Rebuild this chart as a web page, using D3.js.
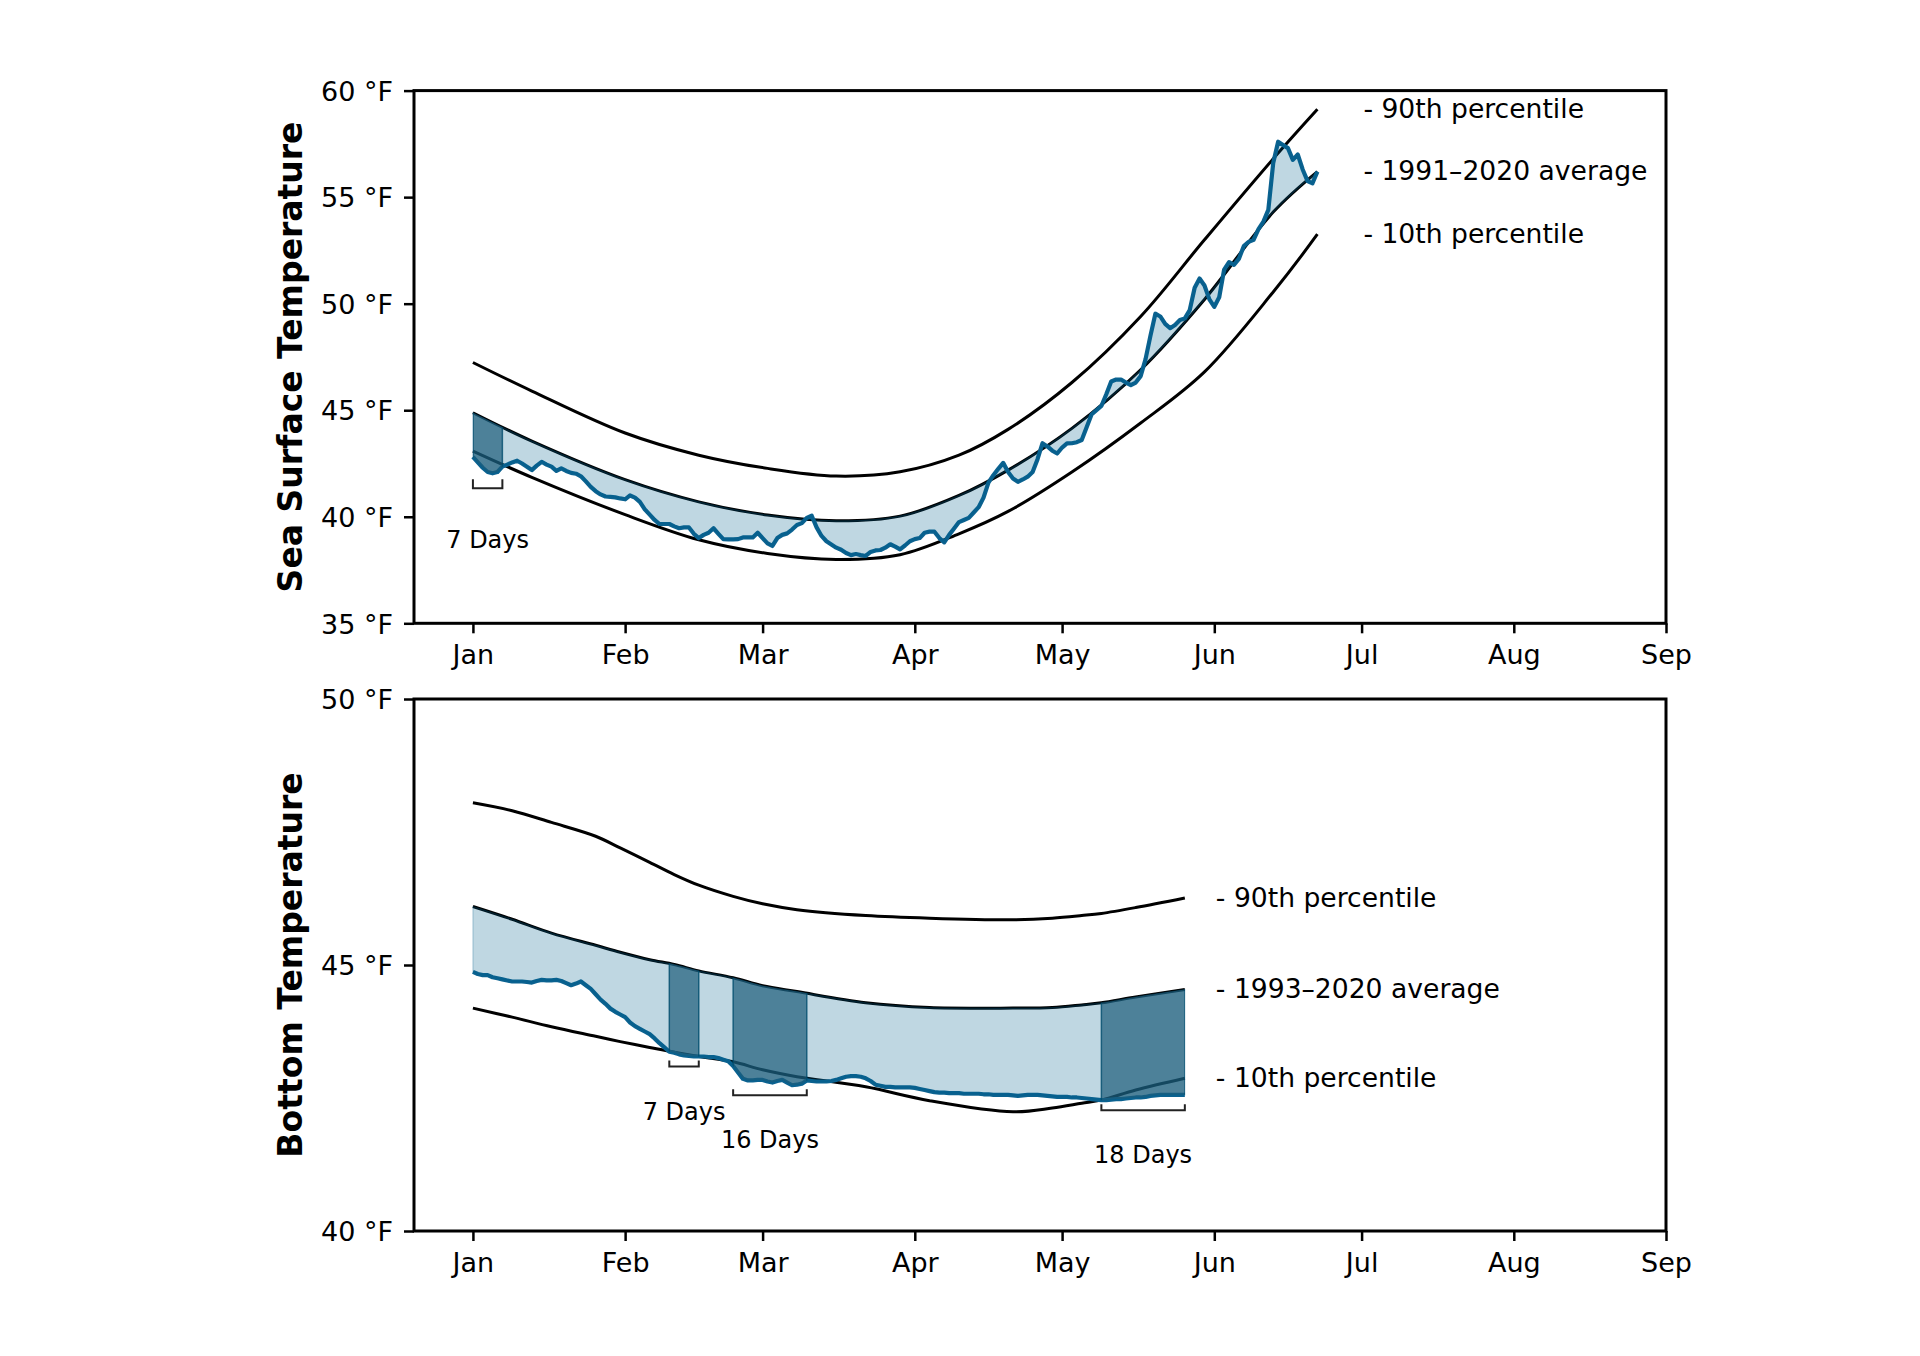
<!DOCTYPE html>
<html>
<head>
<meta charset="utf-8">
<script src="https://cdn.jsdelivr.net/npm/d3@7"></script>
<style>
  body { margin: 0; background: #fff; }
  svg text { font-family: "DejaVu Sans", sans-serif; }
</style>
</head>
<body>
<svg id="chart" width="1920" height="1356"></svg>
<script>
// ---- data ----
const monthTicks = ["2023-01-01", "2023-02-01", "2023-03-01", "2023-04-01", "2023-05-01",
                    "2023-06-01", "2023-07-01", "2023-08-01", "2023-09-01"];
const monthLabels = ["Jan", "Feb", "Mar", "Apr", "May", "Jun", "Jul", "Aug", "Sep"];

// sea surface temperature
const sstTicks = [35, 40, 45, 50, 55, 60];
const sstClimDates = ["2023-01-01", "2023-01-13", "2023-02-01", "2023-02-16", "2023-03-02", "2023-03-16",
                      "2023-03-29", "2023-04-10", "2023-04-20", "2023-05-03", "2023-05-17", "2023-05-30",
                      "2023-06-13", "2023-06-22"];
const sst90 = [47.24, 45.9, 43.93, 42.89, 42.27, 41.91, 42.11, 42.89, 44.1, 46.3, 49.4, 53.0, 56.8, 59.12];
const sstAvg = [44.88, 43.55, 41.74, 40.7, 40.08, 39.81, 40.03, 41.0, 42.19, 44.15, 46.9, 50.2, 54.3, 56.2];
const sst10 = [43.08, 41.85, 40.1, 38.92, 38.28, 38.0, 38.22, 39.2, 40.25, 42.1, 44.4, 46.8, 50.55, 53.26];
const sstObsStart = "2023-01-01";
const sstObs = [
  42.81, 42.55, 42.3, 42.1, 42.04, 42.1, 42.35, 42.45, 42.55, 42.63,
  42.5, 42.35, 42.19, 42.4, 42.58, 42.45, 42.35, 42.15, 42.27, 42.15,
  42.06, 42.02, 41.9, 41.66, 41.4, 41.2, 41.05, 40.95, 40.93, 40.91,
  40.86, 40.82, 41.0, 40.9, 40.7, 40.35, 40.1, 39.85, 39.66, 39.66,
  39.66, 39.55, 39.46, 39.5, 39.5, 39.2, 39.0, 39.15, 39.25, 39.46,
  39.2, 38.95, 38.94, 38.94, 38.95, 39.03, 39.03, 39.03, 39.25, 39.0,
  38.75, 38.63, 39.0, 39.15, 39.22, 39.4, 39.61, 39.7, 39.95, 40.05,
  39.5, 39.1, 38.85, 38.7, 38.55, 38.45, 38.3, 38.2, 38.25, 38.2,
  38.16, 38.35, 38.42, 38.44, 38.55, 38.71, 38.6, 38.47, 38.65, 38.85,
  38.95, 39.0, 39.25, 39.3, 39.3, 39.0, 38.8, 39.15, 39.45, 39.75,
  39.85, 39.95, 40.2, 40.45, 40.9, 41.6, 41.95, 42.25, 42.53, 42.1,
  41.8, 41.64, 41.75, 41.88, 42.1, 42.7, 43.45, 43.3, 43.1, 42.97,
  43.25, 43.44, 43.45, 43.5, 43.6, 44.2, 44.8, 45.0, 45.2, 45.75,
  46.35, 46.44, 46.44, 46.3, 46.18, 46.3, 46.6, 47.4, 48.5, 49.53,
  49.4, 49.05, 48.85, 49.0, 49.23, 49.31, 49.7, 50.75, 51.18, 50.85,
  50.2, 49.85, 50.3, 51.6, 51.95, 51.82, 52.1, 52.7, 52.9, 53.0,
  53.5, 53.85, 54.4, 56.6, 57.6, 57.45, 57.3, 56.75, 57.0, 56.3,
  55.75, 55.65, 56.2
];
const sstEventStart = ["2023-01-01"];
const sstEventEnd = ["2023-01-07"];
const sstEventLabels = ["7 Days"];

// bottom temperature
const btTicks = [40, 45, 50];
const btClimDates = ["2023-01-01", "2023-01-09", "2023-01-17", "2023-01-26", "2023-01-31", "2023-02-06",
                     "2023-02-11", "2023-02-16", "2023-02-23", "2023-03-01", "2023-03-08", "2023-03-22",
                     "2023-04-04", "2023-04-21", "2023-04-29", "2023-05-05", "2023-05-09", "2023-05-16",
                     "2023-05-26"];
const bt90 = [48.05, 47.9, 47.68, 47.42, 47.2, 46.93, 46.7, 46.5, 46.29, 46.15, 46.04, 45.93,
              45.88, 45.85, 45.88, 45.93, 45.97, 46.08, 46.26];
const btAvg = [46.1, 45.86, 45.6, 45.37, 45.24, 45.1, 45.01, 44.89, 44.76, 44.61, 44.5, 44.29,
               44.2, 44.19, 44.2, 44.25, 44.29, 44.4, 44.54];
const bt10 = [44.19, 44.02, 43.84, 43.66, 43.56, 43.45, 43.36, 43.28, 43.18, 43.03, 42.9, 42.71,
              42.45, 42.24, 42.31, 42.4, 42.46, 42.65, 42.87];
const btObsStart = "2023-01-01";
const btObs = [
  44.87, 44.83, 44.81, 44.81, 44.77, 44.75, 44.73, 44.71, 44.69, 44.69,
  44.69, 44.68, 44.67, 44.7, 44.72, 44.71, 44.71, 44.72, 44.7, 44.66,
  44.62, 44.65, 44.69, 44.62, 44.55, 44.45, 44.35, 44.27, 44.18, 44.12,
  44.07, 44.02, 43.92, 43.85, 43.8, 43.75, 43.7, 43.62, 43.53, 43.45,
  43.37, 43.35, 43.32, 43.3, 43.29, 43.28, 43.28, 43.28, 43.27, 43.27,
  43.25, 43.22, 43.19, 43.1, 42.98, 42.86, 42.83, 42.83, 42.84, 42.84,
  42.81, 42.79, 42.82, 42.84, 42.79, 42.74, 42.75, 42.77, 42.83, 42.82,
  42.81, 42.81, 42.81, 42.82, 42.84, 42.87, 42.9, 42.91, 42.91, 42.9,
  42.87, 42.82, 42.75, 42.73, 42.71, 42.71, 42.7, 42.7, 42.7, 42.7,
  42.69, 42.67, 42.65, 42.63, 42.61, 42.6, 42.6, 42.59, 42.59, 42.59,
  42.58, 42.58, 42.58, 42.58, 42.57, 42.57, 42.56, 42.56, 42.56, 42.56,
  42.55, 42.54, 42.55, 42.56, 42.56, 42.56, 42.55, 42.54, 42.53, 42.52,
  42.52, 42.52, 42.51, 42.51, 42.5, 42.49, 42.48, 42.47, 42.46, 42.46,
  42.47, 42.48, 42.48, 42.49, 42.5, 42.51, 42.51, 42.52, 42.54, 42.55,
  42.56, 42.56, 42.56, 42.56, 42.56, 42.56
];
const btEventStart = ["2023-02-10", "2023-02-23", "2023-05-09"];
const btEventEnd = ["2023-02-16", "2023-03-10", "2023-05-26"];
const btEventLabels = ["7 Days", "16 Days", "18 Days"];

// ---- layout ----
const left = 414, right = 1666;
const obsColor = "#0b6290";
const lightFill = "#00608a";
const darkFill = "#1c5d7a";
const edgeColor = "#004c6d";

const utc = d3.utcParse("%Y-%m-%d");
const svg = d3.select("#chart");
const defs = svg.append("defs");
svg.append("rect").attr("width", 1920).attr("height", 1356).attr("fill", "#fff");

const x = d3.scaleUtc()
  .domain([utc("2022-12-20"), utc("2023-09-01")])
  .range([left, right]);

const panels = [
  {
    key: "sst", top: 90.6, bottom: 623.3, yDomain: [35, 60], yTicks: sstTicks,
    yLabel: "Sea Surface Temperature", refLabel: "- 1991\u20132020 average",
    climDates: sstClimDates, p90: sst90, avg: sstAvg, p10: sst10,
    obsStart: sstObsStart, obs: sstObs,
    eventStart: sstEventStart, eventEnd: sstEventEnd, eventLabels: sstEventLabels,
    labelGap: 46, bracketGap: 15, bracketTick: 9, textGap: 60
  },
  {
    key: "bt", top: 699, bottom: 1231, yDomain: [40, 50], yTicks: btTicks,
    yLabel: "Bottom Temperature", refLabel: "- 1993\u20132020 average",
    climDates: btClimDates, p90: bt90, avg: btAvg, p10: bt10,
    obsStart: btObsStart, obs: btObs,
    eventStart: btEventStart, eventEnd: btEventEnd, eventLabels: btEventLabels,
    labelGap: 31, bracketGap: 10, bracketTick: 6, textGap: 53
  }
];

function drawPanel(p) {
  const y = d3.scaleLinear().domain(p.yDomain).range([p.bottom, p.top]);
  const g = svg.append("g").attr("class", "panel-" + p.key);

  const clim = p.climDates.map((s, i) => ({date: utc(s), p90: p.p90[i], avg: p.avg[i], p10: p.p10[i]}));
  const obs = p.obs.map((v, i) => ({date: d3.utcDay.offset(utc(p.obsStart), i), v: v}));

  const climLine = key => d3.line()
    .x(d => x(d.date))
    .y(d => y(d[key]))
    .curve(d3.curveCatmullRom.alpha(0.5));
  const obsLine = d3.line()
    .x(d => x(d.date))
    .y(d => y(d.v));

  /* climatology lines */
  ["p90", "avg", "p10"].forEach(k => {
    g.append("path")
      .attr("d", climLine(k)(clim))
      .attr("fill", "none")
      .attr("stroke", "#000")
      .attr("stroke-width", 3);
  });

  /* observed */
  g.append("path")
    .attr("d", obsLine(obs))
    .attr("fill", "none")
    .attr("stroke", obsColor)
    .attr("stroke-width", 4.2)
    .attr("stroke-linejoin", "round");

  /* band between observed and average */
  const band = obsLine(obs) + climLine("avg")(clim.slice().reverse()).replace(/^M/, "L") + "Z";
  g.append("path")
    .attr("d", band)
    .attr("fill", lightFill)
    .attr("fill-opacity", 0.25)
    .attr("stroke", lightFill)
    .attr("stroke-opacity", 0.25)
    .attr("stroke-width", 1.2);

  defs.append("clipPath").attr("id", "band-" + p.key)
    .append("path").attr("d", band);

  /* marine cold spell periods */
  p.eventStart.forEach((s, i) => {
    const d0 = utc(s), d1 = utc(p.eventEnd[i]);
    const x0 = x(d0), x1 = x(d1);
    const id = `ev-${p.key}-${i}`;
    defs.append("clipPath").attr("id", id)
      .append("rect")
      .attr("x", x0).attr("y", p.top)
      .attr("width", x1 - x0).attr("height", p.bottom - p.top);

    g.append("path")
      .attr("d", band)
      .attr("clip-path", `url(#${id})`)
      .attr("fill", darkFill)
      .attr("fill-opacity", 0.7);

    g.append("path")
      .attr("d", `M${x0},${p.top}V${p.bottom}M${x1},${p.top}V${p.bottom}`)
      .attr("clip-path", `url(#band-${p.key})`)
      .attr("stroke", edgeColor)
      .attr("stroke-opacity", 0.8)
      .attr("stroke-width", 1.5);

    const inRange = obs.filter(d => d.date >= d0 && d.date <= d1);
    const by = y(d3.min(inRange, d => d.v)) + p.bracketGap;
    g.append("path")
      .attr("d", `M${x0},${by - p.bracketTick}V${by}H${x1}V${by - p.bracketTick}`)
      .attr("fill", "none")
      .attr("stroke", "#222")
      .attr("stroke-width", 2);

    g.append("text")
      .attr("x", (x0 + x1) / 2)
      .attr("y", by + p.textGap)
      .attr("text-anchor", "middle")
      .attr("font-size", 24)
      .text(p.eventLabels[i]);
  });

  /* line labels */
  const last = clim[clim.length - 1];
  [["p90", "- 90th percentile"], ["avg", p.refLabel], ["p10", "- 10th percentile"]].forEach(([k, t]) => {
    g.append("text")
      .attr("x", x(last.date) + p.labelGap)
      .attr("y", y(last[k]))
      .attr("dy", "0.33em")
      .attr("font-size", 26.6)
      .text(t);
  });

  /* Axes */
  const xAxis = d3.axisBottom(x)
    .tickValues(monthTicks.map(utc))
    .tickFormat((d, i) => monthLabels[i])
    .tickSize(10)
    .tickPadding(12);
  const yAxis = d3.axisLeft(y)
    .tickValues(p.yTicks)
    .tickFormat(d => d + " \u00b0F")
    .tickSize(10)
    .tickPadding(11);

  const gx = g.append("g")
    .attr("transform", `translate(0,${p.bottom})`)
    .call(xAxis);
  const gy = g.append("g")
    .attr("transform", `translate(${left},0)`)
    .call(yAxis);

  [gx, gy].forEach(a => {
    a.attr("font-family", null).attr("font-size", 27);
    a.select(".domain").remove();
    a.selectAll(".tick line").attr("stroke", "#000").attr("stroke-width", 2.5);
    a.selectAll(".tick text").attr("fill", "#000");
  });
  gy.selectAll(".tick text").attr("dy", "0.36em");

  g.append("rect")
    .attr("x", left).attr("y", p.top)
    .attr("width", right - left).attr("height", p.bottom - p.top)
    .attr("fill", "none")
    .attr("stroke", "#000")
    .attr("stroke-width", 3);

  svg.append("text")
    .attr("transform", `translate(302,${(p.top + p.bottom) / 2}) rotate(-90)`)
    .attr("text-anchor", "middle")
    .attr("font-weight", "bold")
    .attr("font-size", 33)
    .text(p.yLabel);
}

panels.forEach(drawPanel);
</script>
</body>
</html>
